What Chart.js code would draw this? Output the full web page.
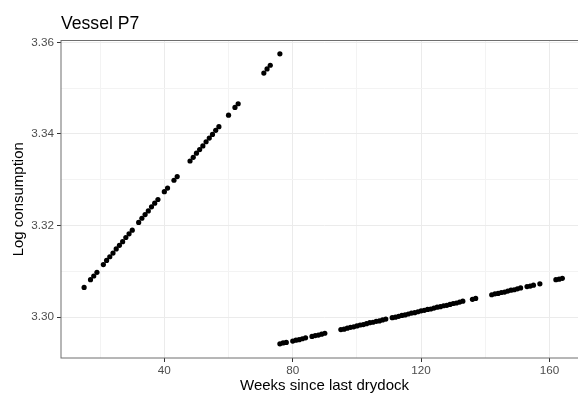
<!DOCTYPE html>
<html>
<head>
<meta charset="utf-8">
<script src="https://cdn.jsdelivr.net/npm/chart.js@4.4.1/dist/chart.umd.min.js"></script>
<style>
  html, body { margin: 0; padding: 0; background: #fff; overflow: hidden; }
  canvas { display: block; }
</style>
</head>
<body>
<canvas id="vesselChart" width="600" height="396"></canvas>
<script>
// Chart texts
const titleText = "Vessel P7";
const xLabel = "Weeks since last drydock";
const yLabel = "Log consumption";

// Axis ticks (major get labels, minor only a grid line)
const xMajor = [40, 80, 120, 160];
const xMinor = [20, 60, 100, 140];
const yMajor = [3.30, 3.32, 3.34, 3.36];
const yMinor = [3.31, 3.33, 3.35];

// First period (steep rise)
const weeksA = [15, 17, 18, 19, 21, 22, 23, 24, 25, 26, 27, 28, 29, 30,
  32, 33, 34, 35, 36, 37, 38, 40, 41, 43, 44,
  48, 49, 50, 51, 52, 53, 54, 55, 56, 57, 60, 62, 63, 71, 72, 73, 76];
const logA = [3.3065, 3.3082, 3.3090, 3.3098, 3.3115, 3.3124, 3.3132, 3.3140, 3.3149, 3.3157, 3.3165, 3.3174, 3.3182, 3.3190,
  3.3207, 3.3216, 3.3224, 3.3232, 3.3241, 3.3249, 3.3257, 3.3274, 3.3282, 3.3299, 3.3307,
  3.3341, 3.3349, 3.3358, 3.3366, 3.3374, 3.3383, 3.3391, 3.3399, 3.3408, 3.3416, 3.3441, 3.3458, 3.3466, 3.3533, 3.3542, 3.3550, 3.3575];

// Second period (slow rise)
const weeksB = [76, 77, 78, 80, 81, 82, 83, 84, 86, 87, 88, 89, 90,
  95, 96, 97, 98, 99, 100, 101, 102, 103, 104, 105, 106, 107, 108, 109,
  111, 112, 113, 114, 115, 116, 117, 118, 119, 120, 121, 122, 123, 124, 125, 126, 127, 128, 129, 130, 131, 132, 133,
  136, 137, 142, 143, 144, 145, 146, 147, 148, 149, 150, 151, 153, 154, 155, 157, 162, 163, 164];
const logB = [3.2942, 3.2944, 3.2945, 3.2948, 3.2950, 3.2951, 3.2953, 3.2955, 3.2958, 3.2960, 3.2961, 3.2963, 3.2965,
  3.2973, 3.2974, 3.2976, 3.2978, 3.2979, 3.2981, 3.2983, 3.2984, 3.2986, 3.2988, 3.2989, 3.2991, 3.2992, 3.2994, 3.2996,
  3.2999, 3.3000, 3.3002, 3.3004, 3.3005, 3.3007, 3.3009, 3.3010, 3.3012, 3.3014, 3.3015, 3.3017, 3.3018, 3.3020, 3.3022, 3.3023, 3.3025, 3.3026, 3.3028, 3.3030, 3.3031, 3.3033, 3.3035,
  3.3039, 3.3041, 3.3049, 3.3051, 3.3052, 3.3054, 3.3055, 3.3057, 3.3059, 3.3060, 3.3062, 3.3064, 3.3067, 3.3068, 3.3070, 3.3073, 3.3082, 3.3083, 3.3085];

const FONT = "'Liberation Sans', Arial, sans-serif";

// panel border + left aligned title (ggplot style)
const panelPlugin = {
  id: "panel",
  afterDatasetsDraw(chart) {
    const { ctx, chartArea: a } = chart;
    ctx.save();
    ctx.strokeStyle = "#6e6e6e";
    ctx.lineWidth = 1;
    ctx.strokeRect(a.left, a.top, a.right - a.left, a.bottom - a.top);
    ctx.restore();
  },
  afterDraw(chart) {
    const { ctx, chartArea: a } = chart;
    ctx.save();
    ctx.fillStyle = "#000";
    ctx.font = "17.6px " + FONT;
    ctx.textBaseline = "alphabetic";
    ctx.textAlign = "left";
    ctx.fillText(titleText, a.left, 29.3);
    ctx.restore();
  }
};

function toPoints(xs, ys) {
  return xs.map((x, i) => ({ x, y: ys[i] }));
}

function gridColor(major) {
  return ctx => {
    const v = ctx.tick ? ctx.tick.value : null;
    return major.includes(v) ? "#ebebeb" : "#f3f3f3";
  };
}

const ctx = document.getElementById("vesselChart").getContext("2d");
new Chart(ctx, {
  type: "scatter",
  data: {
    datasets: [
      {
        data: toPoints(weeksA, logA),
        backgroundColor: "#000",
        borderWidth: 0,
        pointRadius: 2.6,
        pointHoverRadius: 2.6
      },
      {
        data: toPoints(weeksB, logB),
        backgroundColor: "#000",
        borderWidth: 0,
        pointRadius: 2.6,
        pointHoverRadius: 2.6
      }
    ]
  },
  options: {
    responsive: false,
    animation: false,
    devicePixelRatio: 1,
    layout: { padding: { top: 40.5, right: 12, left: 0, bottom: 0 } },
    plugins: {
      legend: { display: false },
      tooltip: { enabled: false },
      title: { display: false }
    },
    scales: {
      x: {
        type: "linear",
        min: 7.8,
        max: 172,
        afterBuildTicks: s => { s.ticks = xMinor.concat(xMajor).sort((a, b) => a - b).map(v => ({ value: v })); },
        afterFit: s => { s.height = 38; },
        border: { display: false },
        grid: {
          color: gridColor(xMajor),
          lineWidth: 1,
          tickLength: 4,
          tickColor: c => xMajor.includes(c.tick.value) ? "#333333" : "rgba(0,0,0,0)"
        },
        ticks: {
          autoSkip: false,
          maxRotation: 0,
          padding: 2,
          color: "#4d4d4d",
          font: { family: FONT, size: 11.7 },
          callback: v => xMajor.includes(v) ? String(v) : ""
        },
        title: {
          display: true,
          text: xLabel,
          color: "#000",
          font: { family: FONT, size: 15 },
          padding: { top: 0, bottom: 1 }
        }
      },
      y: {
        type: "linear",
        min: 3.2911,
        max: 3.3604,
        afterBuildTicks: s => { s.ticks = yMinor.concat(yMajor).sort((a, b) => a - b).map(v => ({ value: v })); },
        afterFit: s => { s.width = 61; },
        border: { display: false },
        grid: {
          color: gridColor(yMajor),
          lineWidth: 1,
          tickLength: 4,
          tickColor: c => yMajor.includes(c.tick.value) ? "#333333" : "rgba(0,0,0,0)"
        },
        ticks: {
          autoSkip: false,
          padding: 3,
          color: "#4d4d4d",
          font: { family: FONT, size: 11.7 },
          callback: v => yMajor.includes(v) ? v.toFixed(2) : ""
        },
        title: {
          display: true,
          text: yLabel,
          color: "#000",
          font: { family: FONT, size: 15 },
          padding: { top: 10, bottom: 0 }
        }
      }
    }
  },
  plugins: [panelPlugin]
});
</script>
</body>
</html>
